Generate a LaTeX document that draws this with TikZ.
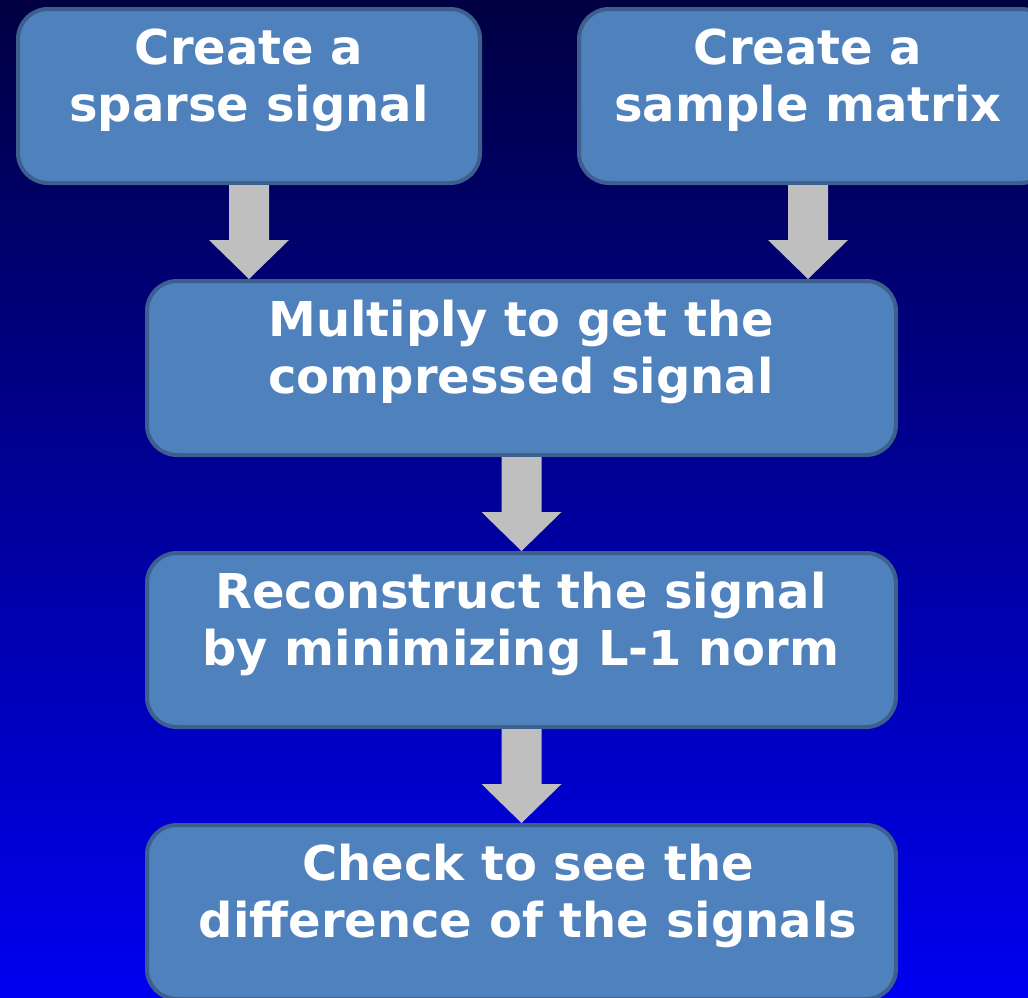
\documentclass[tikz,border=0pt]{standalone}
\usepackage{fontspec}
\setmainfont{DejaVu Sans}
\usetikzlibrary{calc}
\definecolor{boxfill}{HTML}{4F81BD}
\definecolor{boxline}{HTML}{3C5F8D}
\definecolor{arrowgray}{HTML}{BFBFBF}
\definecolor{bgtop}{RGB}{0,0,66}
\definecolor{bgbot}{RGB}{0,0,240}
\begin{document}
\begin{tikzpicture}[x=0.5pt,y=-0.5pt,
  stepbox/.style={draw=boxline, fill=boxfill, line width=2pt, rounded corners=15pt,
    minimum height=87pt, inner sep=0pt},
  wide/.style={stepbox, minimum width=374.5pt},
  lbl/.style={text=white, font=\fontsize{24}{28.5}\selectfont\bfseries, align=center, anchor=base, inner sep=0pt},
  bigarrow/.style={fill=arrowgray, draw=none}]
\useasboundingbox (0,0) rectangle (1028,997);
\shade[top color=bgtop, bottom color=bgbot] (0,0) rectangle (1028,997);
\clip (0,0) rectangle (1028,997);
% boxes
\node[stepbox, minimum width=231pt] (b1) at (249,96) {};
\node[stepbox, minimum width=236pt] (b2) at (815,96) {};
\node[wide] (b3) at (521.5,368) {};
\node[wide] (b4) at (521.5,640) {};
\node[wide] (b5) at (521.5,912) {};
% labels
\node[lbl] (t1) at (249,121) {Create a\\sparse signal};
\node[lbl] (t2) at (808,121) {Create a\\sample matrix};
\node[lbl] (t3) at (521,393) {Multiply to get the\\compressed signal};
\node[lbl] (t4) at (521,665) {Reconstruct the signal\\by minimizing L-1 norm};
\node[lbl] (t5) at (528,937) {Check to see the\\difference of the signals};
% arrows
\foreach \a/\b in {b1/b3, b3/b4, b4/b5}{
  \fill[bigarrow]
    ($(\a.south)+(-20,0)$) -- ($(\a.south)+(20,0)$)
    -- ($(\a.south |- \b.north)+(20,-39)$) -- ($(\a.south |- \b.north)+(40,-39)$)
    -- (\a.south |- \b.north)
    -- ($(\a.south |- \b.north)+(-40,-39)$) -- ($(\a.south |- \b.north)+(-20,-39)$)
    -- cycle;
}
\coordinate (a2) at (b2.south -| t2);
\fill[bigarrow]
  ($(a2)+(-20,0)$) -- ($(a2)+(20,0)$)
  -- ($(a2 |- b3.north)+(20,-39)$) -- ($(a2 |- b3.north)+(40,-39)$)
  -- (a2 |- b3.north)
  -- ($(a2 |- b3.north)+(-40,-39)$) -- ($(a2 |- b3.north)+(-20,-39)$)
  -- cycle;
\end{tikzpicture}
\end{document}
